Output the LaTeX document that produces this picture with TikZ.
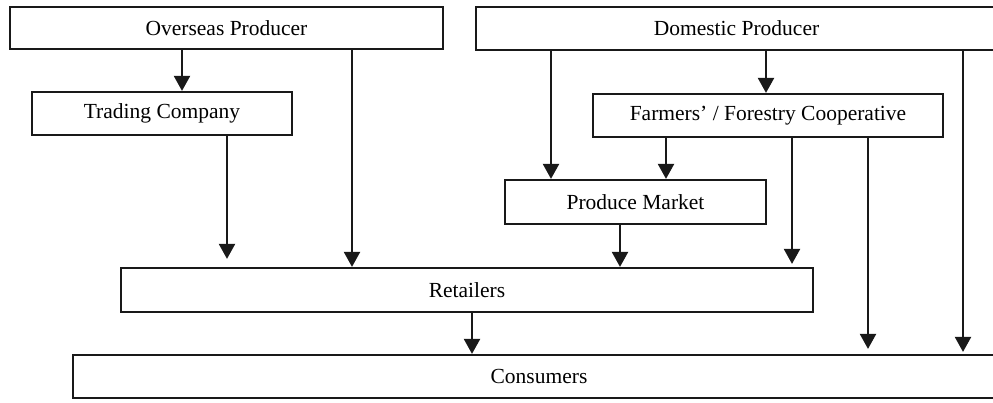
\documentclass[tikz,border=0pt]{standalone}
\usepackage{fontspec}
\setmainfont{Liberation Serif}
\usetikzlibrary{arrows.meta}
\begin{document}
\begin{tikzpicture}[x=1pt,y=-1pt,
  box/.style={draw=black!90, line width=2.2pt, rectangle, inner sep=0pt, align=center,
    font=\fontsize{21.5}{24}\selectfont},
  arr/.style={draw=black!90, line width=2.2pt, -{Triangle[width=16pt,length=15pt]}}]
\useasboundingbox (0,0) rectangle (993,402);
\clip (0,0) rectangle (993,402);
\fill[white] (0,0) rectangle (993,402);
\node[box, minimum width=433pt, minimum height=42pt] (ov) at (226.5,28) {Overseas Producer};
\node[box, minimum width=521pt, minimum height=43pt] (dp) at (736.5,28.5) {Domestic Producer};
\node[box, minimum width=260pt, minimum height=43pt] (tc) at (162,113.5) {Trading Company};
\node[box, minimum width=350pt, minimum height=43pt] (co) at (768,115.5) {Farmers’ / Forestry Cooperative};
\node[box, minimum width=261pt, minimum height=44pt] (pm) at (635.5,202) {Produce Market};
\node[box, minimum width=692pt, minimum height=44pt] (re) at (467,290) {Retailers};
\node[box, minimum width=932pt, minimum height=43pt] (cs) at (539,376.5) {Consumers};
\coordinate (a1) at (182,0);
\coordinate (a2) at (352,0);
\coordinate (a3) at (227,0);
\coordinate (a4) at (551,0);
\coordinate (a5) at (766,0);
\coordinate (a6) at (963,0);
\coordinate (a7) at (666,0);
\coordinate (a8) at (792,0);
\coordinate (a9) at (868,0);
\coordinate (a10) at (620,0);
\coordinate (a11) at (472,0);
\draw[arr] (ov.south -| a1) -- (tc.north -| a1);
\draw[arr] (ov.south -| a2) -- (re.north -| a2);
\draw[arr, shorten >=8pt] (tc.south -| a3) -- (re.north -| a3);
\draw[arr] (dp.south -| a4) -- (pm.north -| a4);
\draw[arr] (dp.south -| a5) -- (co.north -| a5);
\draw[arr, shorten >=2pt] (dp.south -| a6) -- (cs.north -| a6);
\draw[arr] (co.south -| a7) -- (pm.north -| a7);
\draw[arr, shorten >=3pt] (co.south -| a8) -- (re.north -| a8);
\draw[arr, shorten >=5pt] (co.south -| a9) -- (cs.north -| a9);
\draw[arr] (pm.south -| a10) -- (re.north -| a10);
\draw[arr] (re.south -| a11) -- (cs.north -| a11);
\end{tikzpicture}
\end{document}
